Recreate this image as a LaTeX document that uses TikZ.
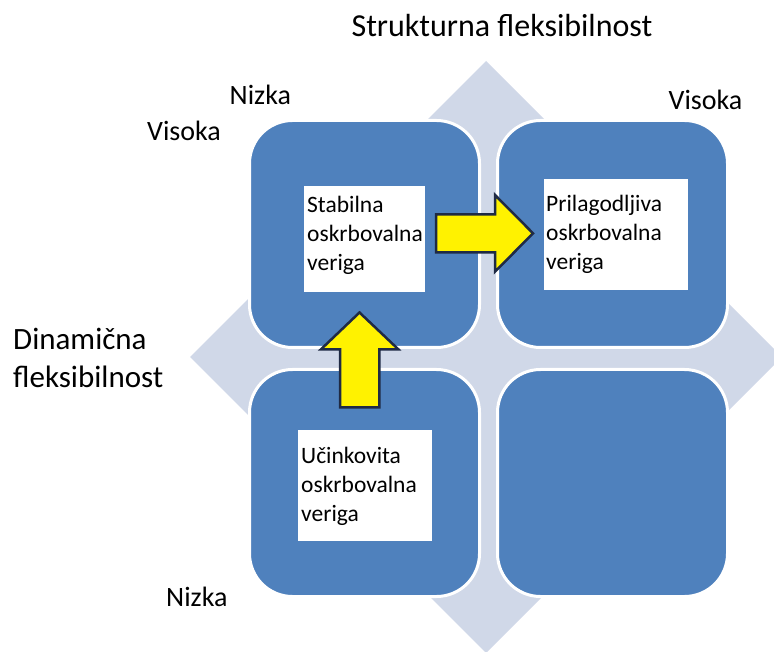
\documentclass[tikz,border=0pt]{standalone}
\usepackage{fontspec}
\setmainfont{Carlito}
\begin{document}
\begin{tikzpicture}[x=1pt,y=-1pt,
  quad/.style={draw=white, line width=3pt, fill=quadblue, rounded corners=43pt,
    minimum width=230pt, minimum height=227pt, anchor=north west, inner sep=0pt},
  whitebox/.style={fill=white, draw=none, anchor=north west, inner sep=0pt},
  boxtext/.style={anchor=base west, inner sep=0pt, align=left, text=black,
    font=\fontsize{23.5}{29}\selectfont},
  axislabel/.style={anchor=base west, inner sep=0pt, text=black,
    font=\fontsize{28}{34}\selectfont},
  blockarrow/.style={fill=yellow, draw=arrowline, line width=2.5pt, line join=miter}
]
\definecolor{quadblue}{HTML}{4F81BD}
\definecolor{diamondgray}{HTML}{D0D8E8}
\definecolor{arrowline}{HTML}{1F2A44}
\useasboundingbox (0,0) rectangle (774,652);

% background diamond
\fill[diamondgray] (486,61) -- (782,357) -- (486,653) -- (190,357) -- cycle;

% four quadrants
\node[quad] (tl) at (248,119) {};
\node[quad] (tr) at (496,119) {};
\node[quad] (bl) at (248,368) {};
\node[quad] (br) at (496,368) {};

% white text panels
\node[whitebox, minimum width=121pt, minimum height=106pt] (sbox) at (304,186) {};
\node[whitebox, minimum width=144pt, minimum height=111pt] (pbox) at (544,179) {};
\node[whitebox, minimum width=134pt, minimum height=111pt] (ubox) at (298,430) {};

% panel texts (base anchor sits on the last line)
\node[boxtext] (stxt) at (307,270.7) {Stabilna\\oskrbovalna\\veriga};
\node[boxtext] (ptxt) at (546,269.5) {Prilagodljiva\\oskrbovalna\\veriga};
\node[boxtext] (utxt) at (301,521.3) {Učinkovita\\oskrbovalna\\veriga};

% block arrows between panels
\coordinate (ra) at (436,233.3);
\draw[blockarrow] (ra) ++(0,-19) -- ++(59,0) -- ++(0,-19.3) -- (533,233.3)
  -- (495,271.7) -- ++(0,-19.4) -- ++(-59,0) -- cycle;
\coordinate (ua) at (359.5,407.3);
\draw[blockarrow] (ua) ++(-19.5,0) -- ++(0,-58) -- ++(-19,0) -- (359.5,312.5)
  -- (398.3,349.3) -- ++(-19,0) -- ++(0,58) -- cycle;

% axis titles and level labels
\node[anchor=base, inner sep=0pt, font=\fontsize{32}{38}\selectfont] (stitle) at (502,36.7) {Strukturna fleksibilnost};
\node[anchor=base west, inner sep=0pt, align=left, font=\fontsize{31}{38}\selectfont] (dtitle) at (13,387.3) {Dinamična\\fleksibilnost};
\node[axislabel] (ntop) at (229.5,105) {Nizka};
\node[axislabel] (vleft) at (147,141) {Visoka};
\node[axislabel] (vright) at (668.5,110) {Visoka};
\node[axislabel] (nbot) at (166,606) {Nizka};
\end{tikzpicture}
\end{document}
